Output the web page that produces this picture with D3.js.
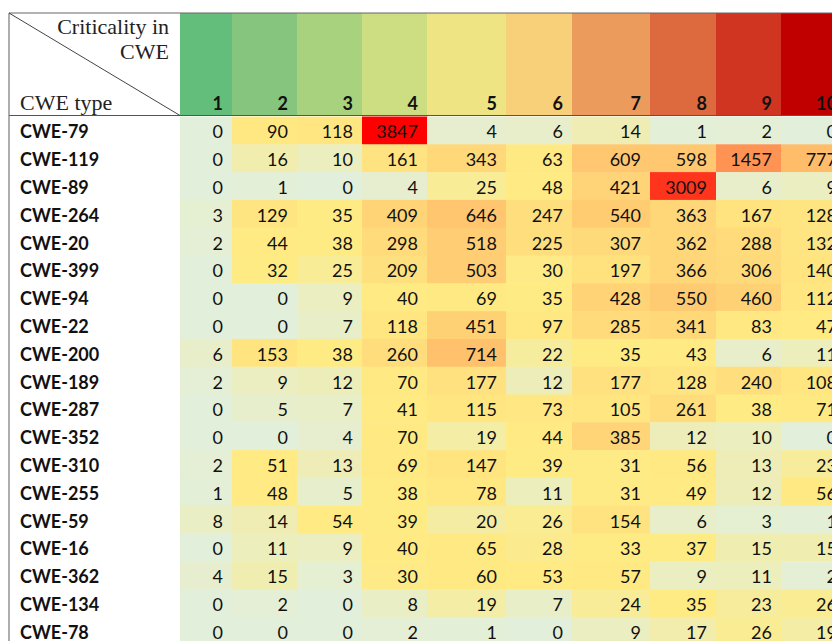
<!DOCTYPE html>
<html>
<head>
<meta charset="utf-8">
<script src="https://cdn.jsdelivr.net/npm/d3@7"></script>
<style>
  html, body { margin: 0; padding: 0; background: #fff; overflow: hidden; }
  svg { display: block; }
  .num { font-family: Lato, "Open Sans", sans-serif; font-size: 18px; fill: #111; }
  .hdr { font-family: "Liberation Serif", serif; font-size: 22px; fill: #222; }
</style>
</head>
<body>
<svg id="chart" width="832" height="641"></svg>
<script>
// criticality levels (columns) and CWE types (rows)
var criticality = [1, 2, 3, 4, 5, 6, 7, 8, 9, 10];
var cweTypes = ["CWE-79", "CWE-119", "CWE-89", "CWE-264", "CWE-20", "CWE-399", "CWE-94",
    "CWE-22", "CWE-200", "CWE-189", "CWE-287", "CWE-352", "CWE-310", "CWE-255",
    "CWE-59", "CWE-16", "CWE-362", "CWE-134", "CWE-78"];

// counts per CWE type, one value per criticality level
var counts = [
    [0, 90, 118, 3847, 4, 6, 14, 1, 2, 0],
    [0, 16, 10, 161, 343, 63, 609, 598, 1457, 777],
    [0, 1, 0, 4, 25, 48, 421, 3009, 6, 9],
    [3, 129, 35, 409, 646, 247, 540, 363, 167, 128],
    [2, 44, 38, 298, 518, 225, 307, 362, 288, 132],
    [0, 32, 25, 209, 503, 30, 197, 366, 306, 140],
    [0, 0, 9, 40, 69, 35, 428, 550, 460, 112],
    [0, 0, 7, 118, 451, 97, 285, 341, 83, 47],
    [6, 153, 38, 260, 714, 22, 35, 43, 6, 11],
    [2, 9, 12, 70, 177, 12, 177, 128, 240, 108],
    [0, 5, 7, 41, 115, 73, 105, 261, 38, 71],
    [0, 0, 4, 70, 19, 44, 385, 12, 10, 0],
    [2, 51, 13, 69, 147, 39, 31, 56, 13, 23],
    [1, 48, 5, 38, 78, 11, 31, 49, 12, 56],
    [8, 14, 54, 39, 20, 26, 154, 6, 3, 1],
    [0, 11, 9, 40, 65, 28, 33, 37, 15, 15],
    [4, 15, 3, 30, 60, 53, 57, 9, 11, 2],
    [0, 2, 0, 8, 19, 7, 24, 35, 23, 26],
    [0, 0, 0, 2, 1, 0, 9, 17, 26, 19]
];

// header fill per criticality level
var headerColors = ["#63BE7B", "#85C57E", "#A9D27F", "#CCDD82", "#EEE484",
    "#F7D079", "#EB9C5C", "#DD693E", "#CF3520", "#C00000"];

var svg = d3.select("#chart");

var tableLeft = 9, tableTop = 13, headBottom = 115.5, bodyTop = 116.5, rowH = 27.8;
var labelW = 171;
var colWidths = [52, 65, 65, 65, 79, 66, 78, 66, 65, 65];
var lefts = [];
colWidths.reduce(function(acc, w) { lefts.push(acc); return acc + w; }, tableLeft + labelW);

var x = d3.scaleOrdinal().domain(criticality).range(lefts);
var w = d3.scaleOrdinal().domain(criticality).range(colWidths);
var y = d3.scaleBand().domain(cweTypes)
        .range([bodyTop, bodyTop + rowH * cweTypes.length]);

var all = d3.merge(counts);
var color = d3.scaleLinear()
        .domain([0, d3.median(all), d3.max(all)])
        .range(["#E2EFDA", "#FFEB84", "#FF0000"]);
var hcolor = d3.scaleOrdinal().domain(criticality).range(headerColors);

// header cells
svg.selectAll(".hcell").data(criticality).enter()
    .append("rect")
    .attr("class", "hcell")
    .attr("x", function(d) { return x(d); })
    .attr("y", tableTop)
    .attr("width", function(d) { return w(d) + 0.5; })
    .attr("height", headBottom - tableTop)
    .attr("fill", function(d) { return hcolor(d); });

svg.selectAll(".hnum").data(criticality).enter()
    .append("text")
    .attr("class", "num")
    .attr("x", function(d) { return x(d) + w(d) - 9; })
    .attr("y", 110)
    .attr("text-anchor", "end")
    .attr("font-weight", "bold")
    .text(function(d) { return d; });

// body cells
var rows = svg.selectAll(".row").data(counts).enter()
    .append("g")
    .attr("class", "row")
    .attr("transform", function(d, i) { return "translate(0," + y(cweTypes[i]) + ")"; });

rows.selectAll("rect").data(function(d) { return d; }).enter()
    .append("rect")
    .attr("x", function(d, j) { return x(criticality[j]); })
    .attr("y", 0)
    .attr("width", function(d, j) { return w(criticality[j]) + 0.5; })
    .attr("height", y.bandwidth() + 0.5)
    .attr("fill", function(d) { return color(d); });

rows.selectAll("text.val").data(function(d) { return d; }).enter()
    .append("text")
    .attr("class", "num val")
    .attr("x", function(d, j) { return x(criticality[j]) + w(criticality[j]) - 9; })
    .attr("y", y.bandwidth() / 2 + 8)
    .attr("text-anchor", "end")
    .text(function(d) { return d; });

rows.append("text")
    .attr("class", "num")
    .attr("x", 20)
    .attr("y", y.bandwidth() / 2 + 8)
    .attr("font-weight", "bold")
    .text(function(d, i) { return cweTypes[i]; });

// borders and diagonal header
svg.append("line")
    .attr("x1", tableLeft).attr("y1", tableTop).attr("x2", 832).attr("y2", tableTop)
    .attr("stroke", "#666").attr("stroke-width", 1);
svg.append("line")
    .attr("x1", tableLeft).attr("y1", headBottom).attr("x2", 832).attr("y2", headBottom)
    .attr("stroke", "#555").attr("stroke-width", 1.2);
svg.append("line")
    .attr("x1", tableLeft).attr("y1", tableTop).attr("x2", tableLeft).attr("y2", 641)
    .attr("stroke", "#777").attr("stroke-width", 1.2);
svg.append("line")
    .attr("x1", tableLeft).attr("y1", tableTop).attr("x2", tableLeft + labelW).attr("y2", headBottom)
    .attr("stroke", "#444").attr("stroke-width", 1);

svg.append("text").attr("class", "hdr").attr("x", 169).attr("y", 34)
    .attr("text-anchor", "end").text("Criticality in");
svg.append("text").attr("class", "hdr").attr("x", 169).attr("y", 59)
    .attr("text-anchor", "end").text("CWE");
svg.append("text").attr("class", "hdr").attr("x", 20).attr("y", 110)
    .text("CWE type");
</script>
</body>
</html>
